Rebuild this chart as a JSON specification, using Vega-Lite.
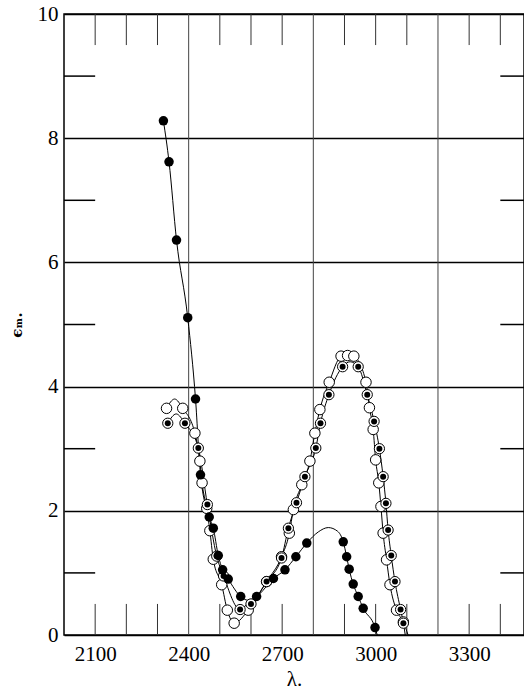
{
  "$schema": "https://vega.github.io/schema/vega-lite/v6.json",
  "autosize": {"type": "none"},
  "width": 460,
  "height": 621,
  "padding": {"left": 64, "top": 14, "right": 0, "bottom": 55},
  "background": "white",
  "config": {"view": {"stroke": "black", "strokeWidth": 1.5}},
  "datasets": {
    "vgrid": [{"lam": 2400}, {"lam": 2800}, {"lam": 3200}],
    "xticks": [
      {"lam": 2100, "e": 0, "e2": 0.5}, {"lam": 2200, "e": 0, "e2": 0.5}, {"lam": 2300, "e": 0, "e2": 0.5},
      {"lam": 2500, "e": 0, "e2": 0.5}, {"lam": 2600, "e": 0, "e2": 0.5}, {"lam": 2700, "e": 0, "e2": 0.5},
      {"lam": 2900, "e": 0, "e2": 0.5}, {"lam": 3000, "e": 0, "e2": 0.5}, {"lam": 3100, "e": 0, "e2": 0.5},
      {"lam": 3300, "e": 0, "e2": 0.5}, {"lam": 3400, "e": 0, "e2": 0.5},
      {"lam": 2100, "e": 9.5, "e2": 10}, {"lam": 2200, "e": 9.5, "e2": 10}, {"lam": 2300, "e": 9.5, "e2": 10},
      {"lam": 2500, "e": 9.5, "e2": 10}, {"lam": 2600, "e": 9.5, "e2": 10}, {"lam": 2700, "e": 9.5, "e2": 10},
      {"lam": 2900, "e": 9.5, "e2": 10}, {"lam": 3000, "e": 9.5, "e2": 10}, {"lam": 3100, "e": 9.5, "e2": 10},
      {"lam": 3300, "e": 9.5, "e2": 10}, {"lam": 3400, "e": 9.5, "e2": 10}
    ],
    "yticks": [
      {"e": 1, "lam": 2000, "lam2": 2100}, {"e": 3, "lam": 2000, "lam2": 2100}, {"e": 5, "lam": 2000, "lam2": 2100},
      {"e": 7, "lam": 2000, "lam2": 2100}, {"e": 9, "lam": 2000, "lam2": 2100},
      {"e": 1, "lam": 3400, "lam2": 3476}, {"e": 3, "lam": 3400, "lam2": 3476}, {"e": 5, "lam": 3400, "lam2": 3476},
      {"e": 7, "lam": 3400, "lam2": 3476}, {"e": 9, "lam": 3400, "lam2": 3476}
    ],
    "points": [
      {"series": "filled", "lam": 2319, "eps": 8.28}, {"series": "filled", "lam": 2337, "eps": 7.62},
      {"series": "filled", "lam": 2361, "eps": 6.36}, {"series": "filled", "lam": 2397, "eps": 5.11},
      {"series": "filled", "lam": 2422, "eps": 3.80}, {"series": "filled", "lam": 2438, "eps": 2.58},
      {"series": "filled", "lam": 2466, "eps": 1.90}, {"series": "filled", "lam": 2479, "eps": 1.72},
      {"series": "filled", "lam": 2495, "eps": 1.28}, {"series": "filled", "lam": 2509, "eps": 1.05},
      {"series": "filled", "lam": 2527, "eps": 0.90}, {"series": "filled", "lam": 2567, "eps": 0.62},
      {"series": "filled", "lam": 2618, "eps": 0.62}, {"series": "filled", "lam": 2672, "eps": 0.91},
      {"series": "filled", "lam": 2709, "eps": 1.05}, {"series": "filled", "lam": 2744, "eps": 1.26},
      {"series": "filled", "lam": 2779, "eps": 1.48}, {"series": "filled", "lam": 2896, "eps": 1.50},
      {"series": "filled", "lam": 2907, "eps": 1.26}, {"series": "filled", "lam": 2915, "eps": 1.06},
      {"series": "filled", "lam": 2928, "eps": 0.82}, {"series": "filled", "lam": 2944, "eps": 0.62},
      {"series": "filled", "lam": 2960, "eps": 0.43}, {"series": "filled", "lam": 2998, "eps": 0.12},

      {"series": "open", "lam": 2329, "eps": 3.65}, {"series": "open", "lam": 2381, "eps": 3.65},
      {"series": "open", "lam": 2420, "eps": 3.25}, {"series": "open", "lam": 2436, "eps": 2.80},
      {"series": "open", "lam": 2443, "eps": 2.45}, {"series": "open", "lam": 2458, "eps": 2.04},
      {"series": "open", "lam": 2468, "eps": 1.68}, {"series": "open", "lam": 2479, "eps": 1.22},
      {"series": "open", "lam": 2506, "eps": 0.81}, {"series": "open", "lam": 2524, "eps": 0.40},
      {"series": "open", "lam": 2546, "eps": 0.19}, {"series": "open", "lam": 2591, "eps": 0.40},
      {"series": "open", "lam": 2650, "eps": 0.86}, {"series": "open", "lam": 2698, "eps": 1.26},
      {"series": "open", "lam": 2723, "eps": 1.64}, {"series": "open", "lam": 2736, "eps": 2.02},
      {"series": "open", "lam": 2763, "eps": 2.42}, {"series": "open", "lam": 2789, "eps": 2.80},
      {"series": "open", "lam": 2805, "eps": 3.25}, {"series": "open", "lam": 2821, "eps": 3.63},
      {"series": "open", "lam": 2851, "eps": 4.07}, {"series": "open", "lam": 2889, "eps": 4.49},
      {"series": "open", "lam": 2910, "eps": 4.50}, {"series": "open", "lam": 2930, "eps": 4.49},
      {"series": "open", "lam": 2969, "eps": 4.07}, {"series": "open", "lam": 2980, "eps": 3.66},
      {"series": "open", "lam": 2992, "eps": 3.31}, {"series": "open", "lam": 3000, "eps": 2.82},
      {"series": "open", "lam": 3010, "eps": 2.45}, {"series": "open", "lam": 3017, "eps": 2.07},
      {"series": "open", "lam": 3024, "eps": 1.64}, {"series": "open", "lam": 3035, "eps": 1.21},
      {"series": "open", "lam": 3046, "eps": 0.81}, {"series": "open", "lam": 3067, "eps": 0.40},
      {"series": "open", "lam": 3089, "eps": 0.21},

      {"series": "dotted", "lam": 2333, "eps": 3.41}, {"series": "dotted", "lam": 2388, "eps": 3.41},
      {"series": "dotted", "lam": 2431, "eps": 3.01}, {"series": "dotted", "lam": 2460, "eps": 2.10},
      {"series": "dotted", "lam": 2490, "eps": 1.27}, {"series": "dotted", "lam": 2512, "eps": 0.95},
      {"series": "dotted", "lam": 2565, "eps": 0.41}, {"series": "dotted", "lam": 2600, "eps": 0.50},
      {"series": "dotted", "lam": 2650, "eps": 0.86}, {"series": "dotted", "lam": 2698, "eps": 1.24},
      {"series": "dotted", "lam": 2720, "eps": 1.72}, {"series": "dotted", "lam": 2746, "eps": 2.13},
      {"series": "dotted", "lam": 2773, "eps": 2.55}, {"series": "dotted", "lam": 2808, "eps": 3.01},
      {"series": "dotted", "lam": 2823, "eps": 3.41}, {"series": "dotted", "lam": 2850, "eps": 3.87},
      {"series": "dotted", "lam": 2894, "eps": 4.32}, {"series": "dotted", "lam": 2944, "eps": 4.32},
      {"series": "dotted", "lam": 2973, "eps": 3.87}, {"series": "dotted", "lam": 2995, "eps": 3.44},
      {"series": "dotted", "lam": 3012, "eps": 3.00}, {"series": "dotted", "lam": 3024, "eps": 2.55},
      {"series": "dotted", "lam": 3033, "eps": 2.12}, {"series": "dotted", "lam": 3040, "eps": 1.69},
      {"series": "dotted", "lam": 3050, "eps": 1.28}, {"series": "dotted", "lam": 3062, "eps": 0.86},
      {"series": "dotted", "lam": 3080, "eps": 0.41}, {"series": "dotted", "lam": 3089, "eps": 0.19}
    ],
    "curves": [
      {"series": "filled", "lam": 2319, "eps": 8.28}, {"series": "filled", "lam": 2337, "eps": 7.62},
      {"series": "filled", "lam": 2361, "eps": 6.36}, {"series": "filled", "lam": 2397, "eps": 5.11},
      {"series": "filled", "lam": 2422, "eps": 3.80}, {"series": "filled", "lam": 2438, "eps": 2.58},
      {"series": "filled", "lam": 2466, "eps": 1.90}, {"series": "filled", "lam": 2479, "eps": 1.72},
      {"series": "filled", "lam": 2495, "eps": 1.28}, {"series": "filled", "lam": 2509, "eps": 1.05},
      {"series": "filled", "lam": 2527, "eps": 0.90}, {"series": "filled", "lam": 2567, "eps": 0.62},
      {"series": "filled", "lam": 2590, "eps": 0.56}, {"series": "filled", "lam": 2618, "eps": 0.62},
      {"series": "filled", "lam": 2672, "eps": 0.91}, {"series": "filled", "lam": 2709, "eps": 1.05},
      {"series": "filled", "lam": 2744, "eps": 1.26}, {"series": "filled", "lam": 2779, "eps": 1.48},
      {"series": "filled", "lam": 2816, "eps": 1.66}, {"series": "filled", "lam": 2848, "eps": 1.73},
      {"series": "filled", "lam": 2878, "eps": 1.67}, {"series": "filled", "lam": 2896, "eps": 1.50},
      {"series": "filled", "lam": 2907, "eps": 1.26}, {"series": "filled", "lam": 2915, "eps": 1.06},
      {"series": "filled", "lam": 2928, "eps": 0.82}, {"series": "filled", "lam": 2944, "eps": 0.62},
      {"series": "filled", "lam": 2960, "eps": 0.43}, {"series": "filled", "lam": 2998, "eps": 0.12},
      {"series": "filled", "lam": 3005, "eps": 0.0},

      {"series": "open", "lam": 2329, "eps": 3.65}, {"series": "open", "lam": 2355, "eps": 3.80},
      {"series": "open", "lam": 2381, "eps": 3.65}, {"series": "open", "lam": 2420, "eps": 3.25},
      {"series": "open", "lam": 2436, "eps": 2.80}, {"series": "open", "lam": 2443, "eps": 2.45},
      {"series": "open", "lam": 2458, "eps": 2.04}, {"series": "open", "lam": 2468, "eps": 1.68},
      {"series": "open", "lam": 2479, "eps": 1.22}, {"series": "open", "lam": 2506, "eps": 0.81},
      {"series": "open", "lam": 2524, "eps": 0.40}, {"series": "open", "lam": 2546, "eps": 0.19},
      {"series": "open", "lam": 2591, "eps": 0.40}, {"series": "open", "lam": 2650, "eps": 0.86},
      {"series": "open", "lam": 2698, "eps": 1.26}, {"series": "open", "lam": 2723, "eps": 1.64},
      {"series": "open", "lam": 2736, "eps": 2.02}, {"series": "open", "lam": 2763, "eps": 2.42},
      {"series": "open", "lam": 2789, "eps": 2.80}, {"series": "open", "lam": 2805, "eps": 3.25},
      {"series": "open", "lam": 2821, "eps": 3.63}, {"series": "open", "lam": 2851, "eps": 4.07},
      {"series": "open", "lam": 2889, "eps": 4.49}, {"series": "open", "lam": 2910, "eps": 4.52},
      {"series": "open", "lam": 2930, "eps": 4.49}, {"series": "open", "lam": 2969, "eps": 4.07},
      {"series": "open", "lam": 2980, "eps": 3.66}, {"series": "open", "lam": 2992, "eps": 3.31},
      {"series": "open", "lam": 3000, "eps": 2.82}, {"series": "open", "lam": 3010, "eps": 2.45},
      {"series": "open", "lam": 3017, "eps": 2.07}, {"series": "open", "lam": 3024, "eps": 1.64},
      {"series": "open", "lam": 3035, "eps": 1.21}, {"series": "open", "lam": 3046, "eps": 0.81},
      {"series": "open", "lam": 3067, "eps": 0.40}, {"series": "open", "lam": 3089, "eps": 0.21},
      {"series": "open", "lam": 3104, "eps": 0.0},

      {"series": "dotted", "lam": 2333, "eps": 3.41}, {"series": "dotted", "lam": 2360, "eps": 3.56},
      {"series": "dotted", "lam": 2388, "eps": 3.41}, {"series": "dotted", "lam": 2431, "eps": 3.01},
      {"series": "dotted", "lam": 2460, "eps": 2.10}, {"series": "dotted", "lam": 2490, "eps": 1.27},
      {"series": "dotted", "lam": 2512, "eps": 0.95}, {"series": "dotted", "lam": 2565, "eps": 0.41},
      {"series": "dotted", "lam": 2600, "eps": 0.50}, {"series": "dotted", "lam": 2650, "eps": 0.86},
      {"series": "dotted", "lam": 2698, "eps": 1.24}, {"series": "dotted", "lam": 2720, "eps": 1.72},
      {"series": "dotted", "lam": 2746, "eps": 2.13}, {"series": "dotted", "lam": 2773, "eps": 2.55},
      {"series": "dotted", "lam": 2808, "eps": 3.01}, {"series": "dotted", "lam": 2823, "eps": 3.41},
      {"series": "dotted", "lam": 2850, "eps": 3.87}, {"series": "dotted", "lam": 2894, "eps": 4.32},
      {"series": "dotted", "lam": 2918, "eps": 4.40}, {"series": "dotted", "lam": 2944, "eps": 4.32},
      {"series": "dotted", "lam": 2973, "eps": 3.87}, {"series": "dotted", "lam": 2995, "eps": 3.44},
      {"series": "dotted", "lam": 3012, "eps": 3.00}, {"series": "dotted", "lam": 3024, "eps": 2.55},
      {"series": "dotted", "lam": 3033, "eps": 2.12}, {"series": "dotted", "lam": 3040, "eps": 1.69},
      {"series": "dotted", "lam": 3050, "eps": 1.28}, {"series": "dotted", "lam": 3062, "eps": 0.86},
      {"series": "dotted", "lam": 3080, "eps": 0.41}, {"series": "dotted", "lam": 3089, "eps": 0.19},
      {"series": "dotted", "lam": 3095, "eps": 0.0}
    ]
  },
  "encoding": {
    "x": {"field": "lam", "type": "quantitative",
      "scale": {"domain": [2000, 3476], "nice": false, "zero": false},
      "axis": {"values": [2100, 2400, 2700, 3000, 3300], "grid": false, "ticks": false, "domain": false,
        "labelFont": "Liberation Serif", "labelFontSize": 21, "labelColor": "black", "labelPadding": 8,
        "format": "d", "title": "λ.", "titleFont": "Liberation Serif", "titleFontSize": 21,
        "titleFontWeight": "normal", "titleColor": "black", "titlePadding": 4}},
    "y": {"field": "eps", "type": "quantitative",
      "scale": {"domain": [0, 10], "nice": false},
      "axis": {"values": [0, 2, 4, 6, 8, 10], "grid": true, "gridColor": "black", "gridWidth": 1.6, "gridOpacity": 1,
        "ticks": false, "domain": false,
        "labelFont": "Liberation Serif", "labelFontSize": 21, "labelColor": "black", "labelPadding": 6,
        "title": "ϵₘ.", "titleFont": "DejaVu Serif", "titleFontSize": 15, "titleFontWeight": "bold",
        "titleColor": "black", "titlePadding": 13}}
  },
  "layer": [
    {"data": {"name": "vgrid"}, "mark": {"type": "rule", "color": "#444", "strokeWidth": 1},
      "encoding": {"x": {"field": "lam", "type": "quantitative"}, "y": null}},
    {"data": {"name": "xticks"}, "mark": {"type": "rule", "color": "#333", "strokeWidth": 1},
      "encoding": {"x": {"field": "lam", "type": "quantitative"},
        "y": {"field": "e", "type": "quantitative"}, "y2": {"field": "e2"}}},
    {"data": {"name": "yticks"}, "mark": {"type": "rule", "color": "black", "strokeWidth": 1.5},
      "encoding": {"y": {"field": "e", "type": "quantitative"},
        "x": {"field": "lam", "type": "quantitative"}, "x2": {"field": "lam2"}}},
    {"data": {"name": "curves"}, "mark": {"type": "line", "color": "black", "strokeWidth": 1, "interpolate": "monotone", "clip": true},
      "encoding": {"detail": {"field": "series"}}},
    {"data": {"name": "points"}, "transform": [{"filter": "datum.series === 'open'"}],
      "mark": {"type": "point", "shape": "circle", "filled": false, "fill": "white", "fillOpacity": 1, "stroke": "black", "strokeWidth": 1, "size": 110, "opacity": 1}},
    {"data": {"name": "points"}, "transform": [{"filter": "datum.series === 'dotted'"}],
      "mark": {"type": "point", "shape": "circle", "filled": false, "fill": "white", "fillOpacity": 1, "stroke": "black", "strokeWidth": 1, "size": 105, "opacity": 1}},
    {"data": {"name": "points"}, "transform": [{"filter": "datum.series === 'dotted'"}],
      "mark": {"type": "circle", "color": "black", "size": 36, "opacity": 1}},
    {"data": {"name": "points"}, "transform": [{"filter": "datum.series === 'filled'"}],
      "mark": {"type": "circle", "color": "black", "size": 90, "opacity": 1}}
  ]
}
